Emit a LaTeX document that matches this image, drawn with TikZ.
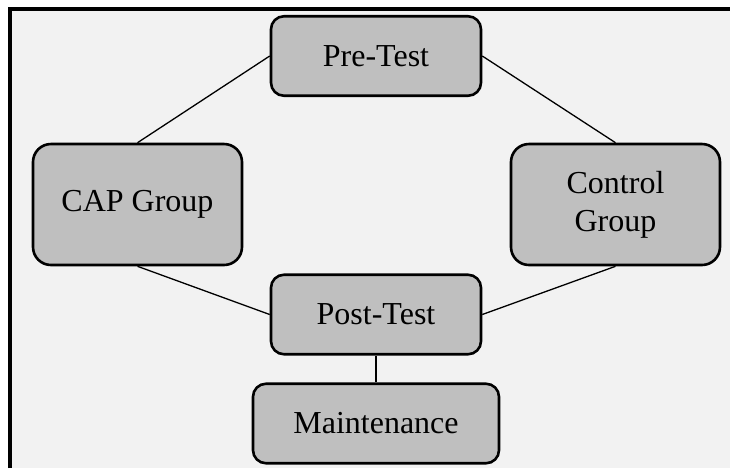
\documentclass[tikz,border=0pt]{standalone}
\usepackage{fontspec}
\setmainfont{Liberation Serif}
\definecolor{bgcol}{HTML}{F2F2F2}
\definecolor{boxcol}{HTML}{BFBFBF}
\begin{document}
\begin{tikzpicture}[x=0.5pt,y=-0.5pt,
  box/.style={draw=black, fill=boxcol, line width=1.3pt, inner sep=0pt,
    align=center, font=\fontsize{16}{19}\selectfont},
  smallbox/.style={box, rounded corners=6.5pt, minimum width=105pt, minimum height=39.75pt},
  bigbox/.style={box, rounded corners=9pt, minimum width=104.5pt, minimum height=60.5pt},
  link/.style={draw=black, line width=0.65pt}]
\useasboundingbox (0,0) rectangle (730,468);
\fill[white] (0,0) rectangle (730,468);
\fill[bgcol] (10,9) rectangle (730,468);
\draw[line width=1.7pt] (10,468) -- (10,9) -- (730,9);

\node[smallbox] (pre) at (376,56) {Pre-Test};
\node[bigbox] (cap) at (137.5,204.5) {CAP Group};
\node[bigbox] (ctrl) at (615.5,204.5) {Control\\Group};
\node[smallbox] (post) at (376,314.5) {Post-Test};
\node[smallbox, minimum width=123pt] (maint) at (376,423.5) {Maintenance};

\begin{scope}[on background layer/.try]
\end{scope}
\draw[link] (pre.west) -- (cap.north);
\draw[link] (pre.east) -- (ctrl.north);
\draw[link] (cap.south) -- (post.west);
\draw[link] (ctrl.south) -- (post.east);
\draw[link] (post.south) -- (maint.north);
\end{tikzpicture}
\end{document}
